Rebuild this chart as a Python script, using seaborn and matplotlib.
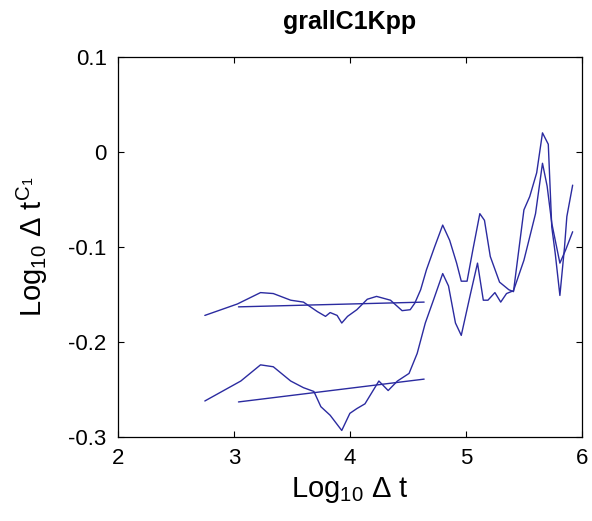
import numpy as np
import pandas as pd
import matplotlib
matplotlib.use("Agg")
import matplotlib.pyplot as plt
import seaborn as sns

# upper curve
x_upper = [2.75, 3.03, 3.23, 3.34, 3.49, 3.60, 3.72, 3.79, 3.83, 3.89, 3.93, 3.98,
           4.06, 4.15, 4.23, 4.35, 4.45, 4.52, 4.56, 4.61, 4.66, 4.73, 4.80, 4.86,
           4.92, 4.96, 5.01, 5.06, 5.12, 5.16, 5.21, 5.29, 5.37, 5.41, 5.50, 5.55,
           5.61, 5.66, 5.71, 5.74, 5.77, 5.81, 5.85, 5.87, 5.92]
y_upper = [-0.172, -0.160, -0.148, -0.149, -0.156, -0.158, -0.168, -0.173, -0.169,
           -0.172, -0.180, -0.173, -0.166, -0.155, -0.152, -0.156, -0.167, -0.166,
           -0.159, -0.145, -0.124, -0.100, -0.077, -0.093, -0.117, -0.136, -0.136,
           -0.103, -0.065, -0.072, -0.110, -0.137, -0.145, -0.147, -0.061, -0.047,
           -0.022, 0.020, 0.008, -0.079, -0.107, -0.151, -0.100, -0.068, -0.035]

# lower curve
x_lower = [2.75, 3.06, 3.23, 3.34, 3.49, 3.60, 3.69, 3.75, 3.83, 3.93, 4.00, 4.06,
           4.13, 4.25, 4.33, 4.41, 4.51, 4.58, 4.65, 4.72, 4.80, 4.85, 4.91, 4.96,
           5.04, 5.10, 5.15, 5.19, 5.25, 5.30, 5.35, 5.41, 5.50, 5.60, 5.66, 5.70,
           5.74, 5.81, 5.86, 5.92]
y_lower = [-0.262, -0.241, -0.224, -0.226, -0.241, -0.248, -0.252, -0.268, -0.277,
           -0.293, -0.275, -0.270, -0.265, -0.241, -0.251, -0.241, -0.233, -0.212,
           -0.180, -0.156, -0.128, -0.141, -0.180, -0.193, -0.149, -0.117, -0.156,
           -0.156, -0.148, -0.158, -0.149, -0.146, -0.114, -0.065, -0.012, -0.036,
           -0.075, -0.117, -0.103, -0.084]

# fitted lines
x_fit = [3.04, 4.64]
y_fit_upper = [-0.163, -0.158]
y_fit_lower = [-0.263, -0.239]

sns.set_style("ticks")
plt.rcParams['font.family'] = ['Liberation Sans', 'DejaVu Sans']
plt.rcParams['mathtext.fontset'] = 'custom'
plt.rcParams['mathtext.rm'] = 'Liberation Sans'
plt.rcParams['mathtext.it'] = 'Liberation Sans'
plt.rcParams['text.color'] = 'black'
plt.rcParams['axes.labelcolor'] = 'black'
plt.rcParams['xtick.color'] = 'black'
plt.rcParams['ytick.color'] = 'black'

fig = plt.figure(figsize=(5.92, 5.21), dpi=100)
ax = fig.add_axes([0.199, 0.161, 0.784, 0.730])

col = '#2b2ba0'
for xs, ys in [(x_upper, y_upper), (x_lower, y_lower),
               (x_fit, y_fit_upper), (x_fit, y_fit_lower)]:
    sns.lineplot(x=xs, y=ys, sort=False, color=col, linewidth=1.0, ax=ax)

ax.set_xlim(2, 6)
ax.set_ylim(-0.3, 0.1)
ax.set_xticks([2, 3, 4, 5, 6])
ax.set_yticks([-0.3, -0.2, -0.1, 0, 0.1])
ax.set_xticklabels(['2', '3', '4', '5', '6'])
ax.set_yticklabels(['-0.3', '-0.2', '-0.1', '0', '0.1'])
ax.tick_params(direction='in', top=True, right=True, length=4, width=0.8,
               labelsize=16, colors='black')
ax.tick_params(axis='y', pad=8)
ax.tick_params(axis='x', pad=8)
for s in ax.spines.values():
    s.set_linewidth(0.9)
    s.set_color('black')

ax.set_title('grallC1Kpp', fontsize=18, fontweight='bold', pad=20, color='black')
ax.set_xlabel(r'Log$_{10}$ $\Delta$ t', fontsize=21, labelpad=4)
ax.set_ylabel(r'Log$_{10}$ $\Delta$ t$^{\mathrm{C}_1}$', fontsize=21, labelpad=13)

fig.savefig('out.png', dpi=100)
